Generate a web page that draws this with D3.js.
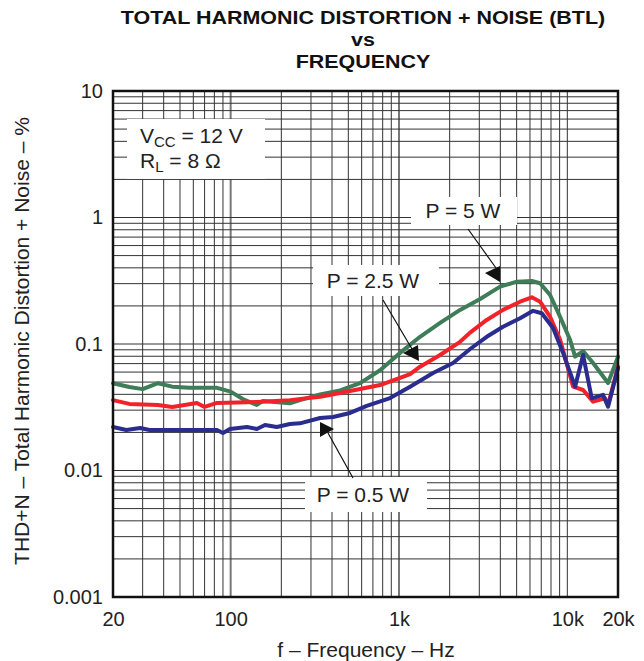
<!DOCTYPE html>
<html><head><meta charset="utf-8">
<script src="https://cdn.jsdelivr.net/npm/d3@7"></script>
<style>body{margin:0;background:#fff}svg{display:block;font-family:"Liberation Sans",Arial,sans-serif}</style>
</head><body><svg id="c" width="644" height="661"></svg>
<script>
// ---- data ----
const xTickValues = [20, 100, 1000, 10000, 20000];
const xTickLabels = ["20", "100", "1k", "10k", "20k"];
const yTickValues = [0.001, 0.01, 0.1, 1, 10];
const yTickLabels = ["0.001", "0.01", "0.1", "1", "10"];

const seriesNames = ["P = 5 W", "P = 2.5 W", "P = 0.5 W"];
const freq5W = [20, 25, 30, 37, 45, 57, 83, 100, 118, 143, 155, 225, 258, 340, 447, 587, 772, 1014, 1334, 1754, 2306, 3034, 3987, 5010, 6150, 6890, 7900, 9060, 10380, 11120, 12410, 14230, 17460, 20000];
const thd5W  = [0.049, 0.0457, 0.044, 0.049, 0.046, 0.045, 0.045, 0.042, 0.0367, 0.033, 0.0354, 0.034, 0.036, 0.040, 0.043, 0.049, 0.062, 0.085, 0.114, 0.147, 0.186, 0.227, 0.284, 0.311, 0.315, 0.302, 0.244, 0.164, 0.108, 0.0794, 0.088, 0.0708, 0.0492, 0.0794];
const freq2W5 = [20, 25, 37, 45, 63, 70, 83, 143, 225, 340, 447, 587, 772, 1014, 1164, 1334, 1754, 2306, 2645, 3320, 4150, 5240, 6150, 6890, 7900, 9060, 10820, 12410, 14230, 16750, 17460, 20000];
const thd2W5  = [0.036, 0.0336, 0.033, 0.0318, 0.0342, 0.0318, 0.0342, 0.0348, 0.036, 0.0383, 0.041, 0.0441, 0.0474, 0.0539, 0.0579, 0.0662, 0.0818, 0.104, 0.123, 0.155, 0.186, 0.216, 0.234, 0.216, 0.164, 0.108, 0.046, 0.0433, 0.035, 0.0372, 0.033, 0.0662];
const freq0W5 = [20, 24, 29, 33, 83, 90, 99, 125, 143, 160, 188, 225, 258, 340, 406, 512, 643, 885, 1164, 1593, 2095, 2645, 3320, 4150, 5240, 6260, 7050, 8230, 9440, 11120, 12410, 13970, 16300, 17460, 20000];
const thd0W5  = [0.0221, 0.0209, 0.0217, 0.0209, 0.0209, 0.0198, 0.0213, 0.0221, 0.0213, 0.0229, 0.0221, 0.0233, 0.0236, 0.026, 0.0265, 0.0285, 0.0324, 0.0374, 0.046, 0.059, 0.0708, 0.0913, 0.114, 0.137, 0.160, 0.183, 0.175, 0.134, 0.085, 0.046, 0.0818, 0.0372, 0.0396, 0.0319, 0.0646];

// ---- layout ----
const L = 113, R = 618, T = 91, B = 597;
const svg = d3.select("#c");
const x = d3.scaleLog().domain([20, 20000]).range([L, R]);
const y = d3.scaleLog().domain([0.001, 10]).range([B, T]);

// grid
const xGrid = [];
for (let d = 10; d <= 10000; d *= 10) for (let m = 1; m <= 9; m++) { const v = d * m; if (v > 20 && v < 20000) xGrid.push(v); }
const yGrid = [];
for (let d = 0.001; d < 10; d *= 10) for (let m = 1; m <= 9; m++) { const v = +(d * m).toPrecision(3); if (v > 0.001 && v < 10) yGrid.push(v); }

const g = svg.append("g");
g.selectAll(".vx").data(xGrid).join("line")
  .attr("x1", d => x(d)).attr("x2", d => x(d)).attr("y1", T).attr("y2", B)
  .attr("stroke", d => [100, 1000].includes(d) ? "#777" : "#333")
  .attr("stroke-width", d => [100, 1000].includes(d) ? 2 : 1);
g.selectAll(".hy").data(yGrid).join("line")
  .attr("x1", L).attr("x2", R).attr("y1", d => y(d)).attr("y2", d => y(d))
  .attr("stroke", "#333").attr("stroke-width", 1);

// annotation boxes (white backgrounds)
const boxes = [
  {x0: 127, y0: 119, x1: 265, y1: 179},
  {x0: 411, y0: 197, x1: 517, y1: 225},
  {x0: 313, y0: 265, x1: 439, y1: 296},
  {x0: 305, y0: 477, x1: 427, y1: 512}
];
svg.selectAll(".box").data(boxes).join("rect")
  .attr("x", d => d.x0).attr("y", d => d.y0)
  .attr("width", d => d.x1 - d.x0).attr("height", d => d.y1 - d.y0)
  .attr("fill", "#fff");

// curves
const series = [
  {f: freq5W, v: thd5W, color: "#3f7d58"},
  {f: freq2W5, v: thd2W5, color: "#f2222a"},
  {f: freq0W5, v: thd0W5, color: "#2b2d8e"}
];
const line = d3.line().x(d => x(d[0])).y(d => y(d[1]));
svg.selectAll(".curve").data(series).join("path")
  .attr("d", s => line(s.f.map((f, i) => [f, s.v[i]])))
  .attr("fill", "none").attr("stroke", s => s.color)
  .attr("stroke-width", 4).attr("stroke-linejoin", "round").attr("stroke-linecap", "round");

// frame
svg.append("rect").attr("x", L).attr("y", T).attr("width", R - L).attr("height", B - T)
  .attr("fill", "none").attr("stroke", "#111").attr("stroke-width", 2.5);

// axes labels
const xAxis = d3.axisBottom(x).tickValues(xTickValues).tickFormat((d, i) => xTickLabels[i]).tickSize(0).tickPadding(0);
const xa = svg.append("g").attr("transform", `translate(0,${B + 15})`).call(xAxis);
xa.select(".domain").remove();
xa.selectAll("text").attr("font-size", 20).attr("fill", "#222").attr("font-family", "Liberation Sans, Arial, sans-serif");

const yAxis = d3.axisLeft(y).tickValues(yTickValues).tickFormat((d, i) => yTickLabels[i]).tickSize(0).tickPadding(0);
const ya = svg.append("g").attr("transform", `translate(${L - 10},0)`).call(yAxis);
ya.select(".domain").remove();
ya.selectAll("text").attr("font-size", 20).attr("fill", "#222").attr("font-family", "Liberation Sans, Arial, sans-serif");

// titles
const tg = svg.append("g").attr("transform", "translate(363,0) scale(1.13,1)");
const titleLines = ["TOTAL HARMONIC DISTORTION + NOISE (BTL)", "vs", "FREQUENCY"];
const titleY = [24, 46, 68];
tg.selectAll("text").data(titleLines).join("text")
  .attr("x", 0).attr("y", (d, i) => titleY[i]).attr("text-anchor", "middle")
  .attr("font-weight", "bold").attr("font-size", 19).attr("fill", "#111").text(d => d);

svg.append("text").attr("x", 366).attr("y", 657).attr("text-anchor", "middle")
  .attr("font-size", 21).attr("fill", "#222").text("f – Frequency – Hz");
svg.append("text").attr("transform", `translate(29,${(T + B) / 2 - 3}) rotate(-90)`).attr("text-anchor", "middle")
  .attr("font-size", 21).attr("fill", "#222").text("THD+N – Total Harmonic Distortion + Noise – %");

// conditions
const cond = svg.append("g").attr("font-size", 21).attr("fill", "#222");
const t1 = cond.append("text").attr("x", 140).attr("y", 143);
t1.append("tspan").text("V");
t1.append("tspan").attr("font-size", 15).attr("dy", 4).text("CC");
t1.append("tspan").attr("dy", -4).text(" = 12 V");
const t2 = cond.append("text").attr("x", 140).attr("y", 168);
t2.append("tspan").text("R");
t2.append("tspan").attr("font-size", 15).attr("dy", 4).text("L");
t2.append("tspan").attr("dy", -4).text(" = 8 Ω");

// series labels with arrows
const labels = [
  {text: seriesNames[0], tx: 463, ty: 218, line: [[468, 229], [496, 268]], tri: [[485, 273], [500, 266], [500, 282]]},
  {text: seriesNames[1], tx: 373, ty: 288, line: [[383, 300], [412, 349]], tri: [[403, 353], [418, 345], [419, 361]]},
  {text: seriesNames[2], tx: 363, ty: 502, line: [[353, 478], [328, 433]], tri: [[320, 422], [334, 429], [320, 437]]}
];
const lg = svg.selectAll(".lbl").data(labels).join("g");
lg.append("text").attr("x", d => d.tx).attr("y", d => d.ty).attr("text-anchor", "middle")
  .attr("font-size", 21).attr("fill", "#222").text(d => d.text);
lg.append("path").attr("d", d => d3.line()(d.line)).attr("stroke", "#111").attr("stroke-width", 1.2).attr("fill", "none");
lg.append("path").attr("d", d => d3.line()(d.tri) + "Z").attr("fill", "#111");
</script></body></html>
